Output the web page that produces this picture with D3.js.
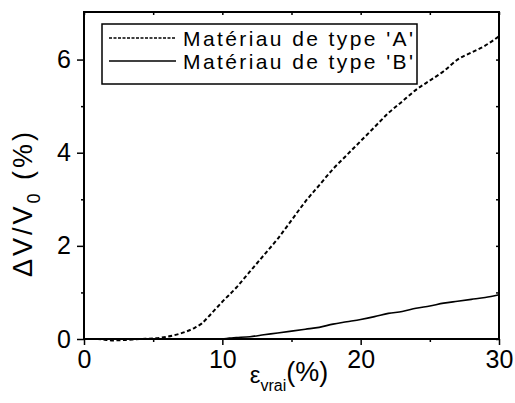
<!DOCTYPE html>
<html><head><meta charset="utf-8">
<script src="https://cdn.jsdelivr.net/npm/d3@7"></script>
<style>body{margin:0;background:#fff}svg{display:block}text{font-family:"Liberation Sans",Arial,sans-serif;fill:#000}</style>
</head><body><svg id="c" width="515" height="403"></svg>
<script>
const strainA = [0,1,2,3,4,5,6,7,8,8.5,9,9.5,10,11,12,13,14,15,16,17,18,19,20,21,22,23,24,25,26,27,28,29,30];
const valuesA = [0,0,-0.03,-0.02,0,0.01,0.05,0.12,0.24,0.33,0.48,0.64,0.8,1.1,1.45,1.8,2.15,2.55,2.95,3.3,3.65,3.95,4.25,4.55,4.85,5.1,5.35,5.55,5.75,6.0,6.15,6.3,6.5];
const strainB = [0.5,5,10,10.5,11,12,13,14,15,16,17,18,19,20,21,22,23,24,25,26,27,28,29,30];
const valuesB = [0,0,0,0.02,0.03,0.05,0.09,0.13,0.17,0.21,0.25,0.32,0.37,0.42,0.48,0.55,0.59,0.66,0.71,0.77,0.81,0.85,0.89,0.95];
const xMajor = [0,10,20,30], xMinor = [5,15,25];
const yMajor = [0,2,4,6], yMinor = [1,3,5];
const legendLabels = ["Matériau de type 'A'","Matériau de type 'B'"];

const svg = d3.select("#c");
const L=84,R=499,T=12,B=339;
const x = d3.scaleLinear().domain([0,30]).range([L,R]);
const y = d3.scaleLinear().domain([0,7]).range([B,T+1]);

const fmt = d3.format("d");
svg.append("g").attr("transform",`translate(0,${B})`)
  .call(d3.axisBottom(x).tickValues(xMajor).tickFormat(fmt).tickSize(6).tickPadding(5));
svg.append("g").attr("transform",`translate(0,${B})`)
  .call(d3.axisBottom(x).tickValues(xMinor).tickFormat("").tickSize(3));
svg.append("g").attr("transform",`translate(${L},0)`)
  .call(d3.axisLeft(y).tickValues(yMajor).tickFormat(fmt).tickSize(7).tickPadding(6));
svg.append("g").attr("transform",`translate(${L},0)`)
  .call(d3.axisLeft(y).tickValues(yMinor).tickFormat("").tickSize(3));
svg.append("g").attr("transform",`translate(0,${T})`)
  .call(d3.axisBottom(x).tickValues(xMajor.concat(xMinor)).tickFormat("").tickSize(3));
svg.append("g").attr("transform",`translate(${R},0)`)
  .call(d3.axisLeft(y).tickValues(yMajor.concat(yMinor)).tickFormat("").tickSize(3));
svg.selectAll(".domain").remove();
svg.selectAll(".tick line").attr("stroke","#000").attr("stroke-width",1.5);
svg.selectAll(".tick text").style("font-size","25px").attr("fill","#000");

svg.append("rect").attr("x",L).attr("y",T).attr("width",R-L).attr("height",B-T)
  .attr("fill","none").attr("stroke","#000").attr("stroke-width",2);

const line = d3.line().curve(d3.curveMonotoneX).x(d=>x(d[0])).y(d=>y(d[1]));
svg.append("path").datum(d3.zip(strainA,valuesA)).attr("d",line)
  .attr("fill","none").attr("stroke","#000").attr("stroke-width",2).attr("stroke-dasharray","4,2.5");
svg.append("path").datum(d3.zip(strainB,valuesB)).attr("d",line)
  .attr("fill","none").attr("stroke","#000").attr("stroke-width",1.6);

svg.append("rect").attr("x",102).attr("y",24).attr("width",315).attr("height",60)
  .attr("fill","#fff").attr("stroke","#000").attr("stroke-width",1.5);
const ly=[38,61];
legendLabels.forEach((t,i)=>{
  svg.append("line").attr("x1",109).attr("x2",176).attr("y1",ly[i]).attr("y2",ly[i])
    .attr("stroke","#000").attr("stroke-width",i?1.6:1.5).attr("stroke-dasharray",i?null:"3,1.5");
  svg.append("text").attr("x",183).attr("y",ly[i]+8).style("font-size","21px")
    .attr("textLength",230).attr("lengthAdjust","spacing").text(t);
});

const xt = svg.append("text").attr("x",289).attr("y",383).attr("text-anchor","middle").style("font-size","24px");
xt.append("tspan").text("ε");
xt.append("tspan").attr("dy",8).style("font-size","16px").text("vrai");
xt.append("tspan").attr("dy",-10).style("font-size","27px").text("(%)");

const yt = svg.append("text").attr("transform","translate(32,203) rotate(-90)").attr("text-anchor","middle")
  .style("font-size","27px").style("letter-spacing","3px");
yt.append("tspan").text("ΔV/V");
yt.append("tspan").attr("dy",8).style("font-size","18px").text("0");
yt.append("tspan").attr("dy",-8).text(" (%)");
</script></body></html>
